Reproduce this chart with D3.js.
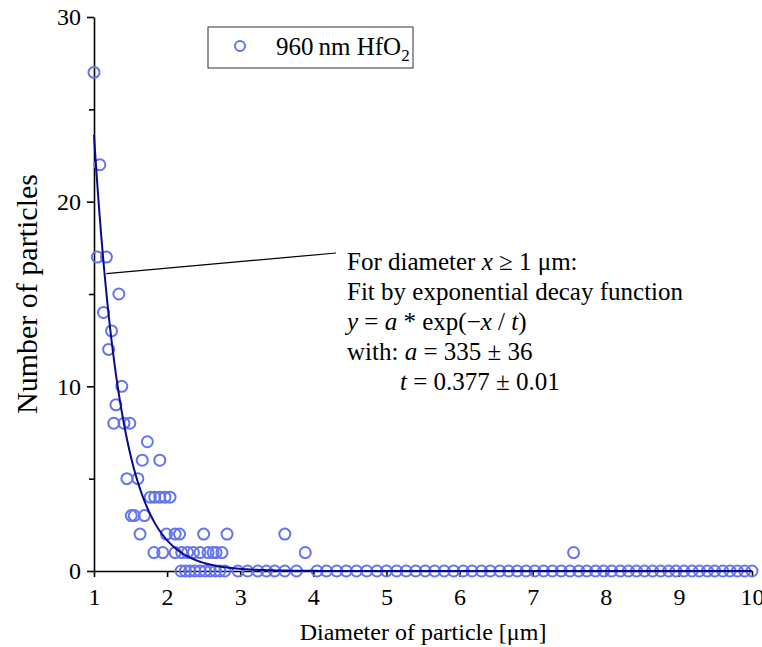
<!DOCTYPE html>
<html>
<head>
<meta charset="utf-8">
<script src="https://cdn.jsdelivr.net/npm/d3@7"></script>
<style>
  body { margin: 0; background: #fff; }
  text { font-family: "Liberation Serif", "Times New Roman", serif; fill: #000; }
</style>
</head>
<body>
<svg class="chart"></svg>
<script>
const diameters = [
  1.00, 1.045, 1.08, 1.13, 1.17, 1.20, 1.24, 1.27, 1.30, 1.34, 1.38, 1.41, 1.45, 1.49,
  1.51, 1.55, 1.60, 1.63, 1.66, 1.69, 1.73, 1.77, 1.82, 1.83, 1.90, 1.90, 1.94, 1.97,
  1.99, 2.04, 2.11, 2.11, 2.17, 2.19, 2.20, 2.25, 2.28, 2.31, 2.36, 2.38, 2.45, 2.45,
  2.50, 2.52, 2.56, 2.59, 2.63, 2.66, 2.67, 2.72, 2.75, 2.79, 2.82, 2.97, 3.10, 3.24,
  3.36, 3.47, 3.61, 3.61, 3.77, 3.89, 4.05, 4.18, 4.32, 4.45, 4.59, 4.73, 4.87, 5.00,
  5.14, 5.27, 5.40, 5.53, 5.66, 5.79, 5.92, 6.05, 6.17, 6.30, 6.42, 6.55, 6.67, 6.79,
  6.91, 7.03, 7.15, 7.27, 7.39, 7.51, 7.56, 7.63, 7.74, 7.86, 7.97, 8.08, 8.20, 8.31,
  8.42, 8.53, 8.64, 8.75, 8.86, 8.96, 9.07, 9.18, 9.28, 9.39, 9.49, 9.60, 9.70, 9.80,
  9.90, 10.0
]
const counts = [
  27, 17, 22, 14, 17, 12, 13, 8, 9, 15, 10, 8, 5, 8,
  3, 3, 5, 2, 6, 3, 7, 4, 1, 4, 4, 6, 1, 4,
  2, 4, 2, 1, 2, 0, 1, 0, 1, 0, 1, 0, 0, 1,
  2, 0, 1, 0, 1, 0, 1, 0, 1, 0, 2, 0, 0, 0,
  0, 0, 0, 2, 0, 1, 0, 0, 0, 0, 0, 0, 0, 0,
  0, 0, 0, 0, 0, 0, 0, 0, 0, 0, 0, 0, 0, 0,
  0, 0, 0, 0, 0, 0, 1, 0, 0, 0, 0, 0, 0, 0,
  0, 0, 0, 0, 0, 0, 0, 0, 0, 0, 0, 0, 0, 0,
  0, 0
]

// exponential decay fit y = a*exp(-x/t)
const fitA = 335
const fitT = 0.377

const xTicks = [1, 2, 3, 4, 5, 6, 7, 8, 9, 10]
const yTicks = [0, 10, 20, 30]
const yMinorTicks = [5, 15, 25]

const width = 762, height = 647

const svg = d3.select("svg.chart")
    .attr("width", width)
    .attr("height", height)

const x = d3.scaleLinear().domain([1, 10]).range([94, 752])
const y = d3.scaleLinear().domain([0, 30]).range([571, 17])

// axes
const xAxis = svg.append("g")
    .attr("transform", `translate(0,${y(0)})`)
    .call(d3.axisBottom(x).tickValues(xTicks).tickSize(6).tickPadding(11).tickSizeOuter(0))
xAxis.select(".domain").attr("stroke-width", 1.6)
xAxis.selectAll(".tick line").attr("stroke-width", 1.6)
xAxis.selectAll("text").style("font-size", "24px").style("font-family", "Liberation Serif")

const yAxis = svg.append("g")
    .attr("transform", `translate(${x(1)},0)`)
    .call(d3.axisLeft(y).tickValues(yTicks).tickSize(7).tickPadding(6).tickSizeOuter(0))
yAxis.select(".domain").attr("stroke-width", 1.6)
yAxis.selectAll(".tick line").attr("stroke-width", 1.6)
yAxis.selectAll("text").style("font-size", "24px").style("font-family", "Liberation Serif")

svg.append("g")
    .attr("transform", `translate(${x(1)},0)`)
    .call(d3.axisLeft(y).tickValues(yMinorTicks).tickSize(5).tickFormat(""))
    .call(g => g.select(".domain").remove())
    .selectAll(".tick line").attr("stroke-width", 1.6)

// axis titles
svg.append("text")
    .attr("x", (x(1) + x(10)) / 2)
    .attr("y", 640)
    .attr("text-anchor", "middle")
    .style("font-size", "24px")
    .text("Diameter of particle [μm]")

svg.append("text")
    .attr("transform", `translate(37,${(y(0) + y(30)) / 2}) rotate(-90)`)
    .attr("text-anchor", "middle")
    .style("font-size", "30px")
    .text("Number of particles")

// points
const points = diameters.map((d, i) => ({d: d, n: counts[i]}))

svg.append("g")
    .selectAll("circle")
    .data(points)
    .enter()
    .append("circle")
    .attr("cx", p => x(p.d))
    .attr("cy", p => y(p.n))
    .attr("r", 5.5)
    .attr("fill", "none")
    .attr("stroke", "#6474ee")
    .attr("stroke-width", 2)

// fit curve
const fitX = d3.range(1, 10.001, 0.02)
const line = d3.line()
    .x(v => x(v))
    .y(v => y(fitA * Math.exp(-v / fitT)))

svg.append("path")
    .datum(fitX)
    .attr("d", line)
    .attr("fill", "none")
    .attr("stroke", "#0a0a90")
    .attr("stroke-width", 2)

// annotation pointer
svg.append("line")
    .attr("x1", x(1.17)).attr("y1", y(16.1))
    .attr("x2", 336).attr("y2", 253)
    .attr("stroke", "#000")
    .attr("stroke-width", 1.2)

const note = svg.append("g").style("font-size", "25px")

const l1 = note.append("text").attr("x", 347).attr("y", 270)
l1.append("tspan").text("For diameter ")
l1.append("tspan").style("font-style", "italic").text("x")
l1.append("tspan").text(" ≥ 1 μm:")

note.append("text").attr("x", 347).attr("y", 300).text("Fit by exponential decay function")

const l3 = note.append("text").attr("x", 347).attr("y", 330)
l3.append("tspan").style("font-style", "italic").text("y")
l3.append("tspan").text(" = ")
l3.append("tspan").style("font-style", "italic").text("a")
l3.append("tspan").text(" * exp(−")
l3.append("tspan").style("font-style", "italic").text("x")
l3.append("tspan").text(" / ")
l3.append("tspan").style("font-style", "italic").text("t")
l3.append("tspan").text(")")

const l4 = note.append("text").attr("x", 347).attr("y", 360)
l4.append("tspan").text("with: ")
l4.append("tspan").style("font-style", "italic").text("a")
l4.append("tspan").text(" = " + fitA + " ± 36")

const l5 = note.append("text").attr("x", 400).attr("y", 390)
l5.append("tspan").style("font-style", "italic").text("t")
l5.append("tspan").text(" = " + fitT + " ± 0.01")

// legend
const legend = svg.append("g")
legend.append("rect")
    .attr("x", 208).attr("y", 27)
    .attr("width", 205).attr("height", 41)
    .attr("fill", "#fff")
    .attr("stroke", "#333")
    .attr("stroke-width", 1)
legend.append("circle")
    .attr("cx", 240).attr("cy", 46).attr("r", 5)
    .attr("fill", "none").attr("stroke", "#6474ee").attr("stroke-width", 2)
const lt = legend.append("text").attr("x", 276).attr("y", 55).style("font-size", "25px")
lt.append("tspan").text("960\u2009nm HfO")
lt.append("tspan").attr("dy", 6).style("font-size", "17px").text("2")
</script>
</body>
</html>
